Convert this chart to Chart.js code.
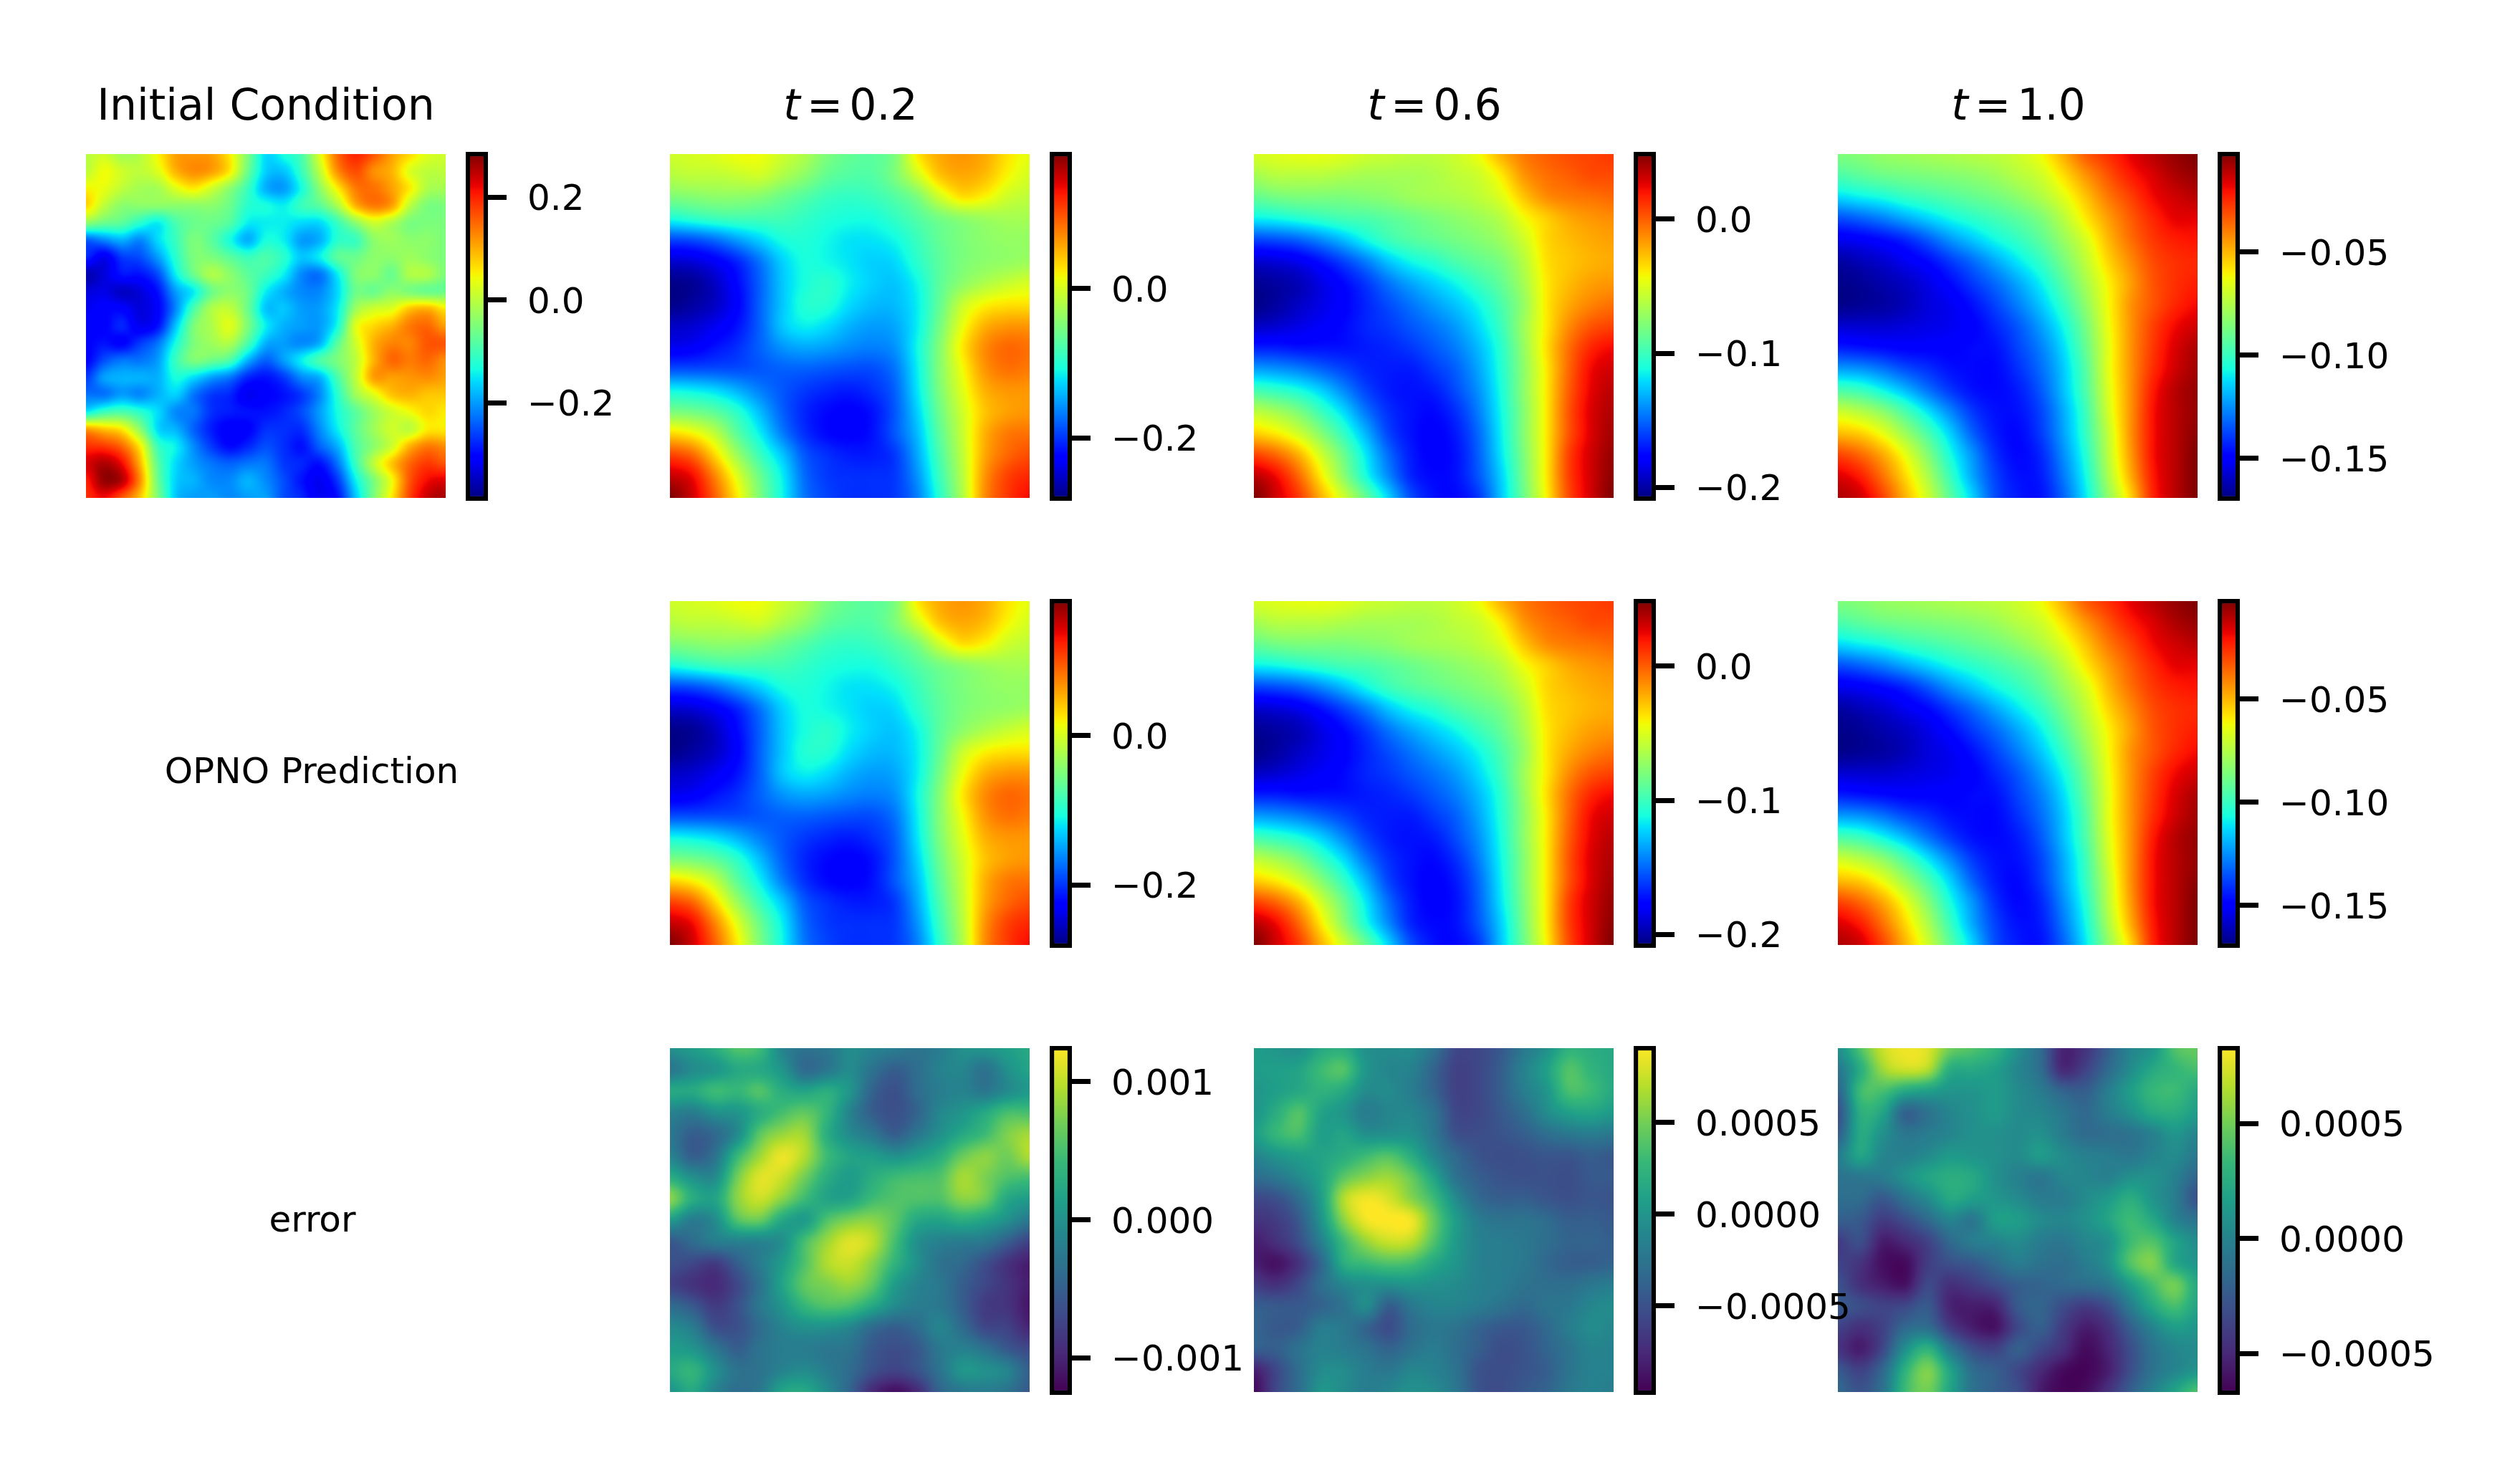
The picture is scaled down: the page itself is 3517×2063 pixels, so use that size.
<!DOCTYPE html>
<html>
<head>
<meta charset="utf-8">
<script src="https://cdn.jsdelivr.net/npm/chart.js@4"></script>
<style>
  html, body { margin: 0; background: #fff; }
  #page { position: relative; width: 3517px; height: 2063px; overflow: hidden; font-family: "DejaVu Sans"; color: #000; }
  canvas { position: absolute; }
  .label { position: absolute; transform: translateX(-50%); white-space: nowrap; line-height: 1; }
</style>
</head>
<body>
<div id="page"></div>
<script>
// colour levels (0-100 of each panel's colour range), row 0 = top
const initial = [
  [57,60,55,57,65,74,75,74,66,50,34,38,44,62,80,87,82,74,68,62,60],
  [58,64,60,58,62,72,76,74,66,48,33,32,42,58,76,83,76,72,62,58,58],
  [65,63,58,55,55,62,66,60,52,42,30,28,38,52,66,78,79,74,66,56,55],
  [68,58,52,52,52,52,52,52,48,40,38,36,42,46,56,72,78,74,58,50,50],
  [52,48,46,40,36,44,48,48,45,36,36,36,34,34,42,52,60,56,50,50,50],
  [22,26,30,26,34,42,50,46,38,30,38,36,28,30,40,42,52,54,52,52,50],
  [16,10,18,20,28,40,50,50,46,42,44,40,32,36,46,48,52,52,54,52,50],
  [4,8,14,14,20,36,48,56,52,46,42,36,26,24,36,50,52,48,56,56,50],
  [8,9,6,8,14,28,36,48,52,48,36,30,26,26,34,48,48,52,50,48,48],
  [10,12,12,8,12,26,44,56,58,48,32,32,28,28,36,54,60,62,70,72,66],
  [12,12,16,10,14,32,50,56,62,50,36,30,28,28,38,62,68,72,78,80,74],
  [12,14,12,18,24,38,50,54,56,44,30,28,26,30,46,60,72,77,77,82,82],
  [12,20,24,24,28,42,50,48,44,30,22,28,36,44,50,58,72,80,78,80,76],
  [18,28,30,30,30,38,34,28,24,16,14,18,26,30,44,58,74,74,75,76,74],
  [24,24,28,26,30,33,24,18,16,10,12,14,18,26,40,54,62,70,72,70,70],
  [36,42,44,40,34,26,24,17,15,14,14,16,20,28,38,46,54,60,64,68,66],
  [74,70,66,52,34,30,22,15,11,12,17,17,17,26,36,46,54,60,58,66,66],
  [86,85,80,66,42,36,26,18,13,16,20,17,14,22,30,44,52,60,72,78,76],
  [92,96,90,72,46,34,28,24,22,24,24,18,16,14,24,42,58,70,80,85,82],
  [88,98,95,76,48,33,30,26,26,30,26,20,14,10,18,36,50,64,82,90,92],
  [86,90,82,70,50,32,28,28,26,28,28,20,16,10,14,32,50,66,84,94,97]
];
const field02 = [
  [60,61,62,64,64,60,56,50,47,46,50,66,73,75,73,67,63],
  [57,58,58,59,60,56,52,47,45,45,50,60,70,73,71,65,61],
  [50,51,52,52,51,48,45,42,41,42,45,50,60,67,65,60,58],
  [38,40,42,43,43,43,41,39,38,38,41,45,49,52,54,55,55],
  [19,20,23,28,33,38,39,37,35,35,37,42,47,50,52,53,53],
  [7,8,11,16,24,33,38,37,35,33,34,40,46,50,52,53,54],
  [1,2,6,13,22,32,38,40,36,33,32,37,46,52,56,59,61],
  [1,3,6,12,22,32,39,39,34,31,31,36,47,59,65,67,67],
  [6,7,10,14,22,32,36,34,30,28,29,36,49,63,72,75,75],
  [10,11,14,17,22,27,29,28,26,25,27,37,51,66,76,80,79],
  [20,20,20,20,21,22,22,21,20,20,24,36,51,64,75,79,78],
  [37,36,34,30,25,21,18,16,15,17,22,35,50,62,72,75,75],
  [50,49,46,40,31,22,16,13,12,14,21,33,48,60,70,74,75],
  [68,65,58,46,36,25,17,13,12,14,21,31,46,59,72,78,79],
  [84,80,68,54,42,32,21,17,15,15,18,29,44,58,73,80,83],
  [94,90,77,62,48,36,23,18,17,17,18,27,42,57,75,84,87],
  [100,93,81,66,50,37,24,19,17,17,18,25,40,56,76,85,90]
];
const field06 = [
  [61,62,63,63,62,60,59,58,58,60,64,72,78,81,83,84,85],
  [55,57,57,57,56,55,55,55,56,58,60,66,75,79,81,83,83],
  [47,49,50,50,50,51,52,54,55,56,58,62,70,76,78,79,80],
  [36,37,39,41,43,44,46,48,50,52,54,57,64,69,73,75,76],
  [19,20,22,26,31,37,42,45,47,49,51,54,60,68,71,73,74],
  [7,8,10,14,19,25,32,37,40,44,47,50,57,67,70,72,73],
  [2,3,5,9,13,18,24,29,33,37,42,47,55,66,71,74,75],
  [1,3,6,9,12,16,20,24,28,32,37,44,53,66,73,77,79],
  [6,7,9,11,13,16,18,21,24,28,34,42,54,66,76,82,84],
  [15,15,14,14,14,15,16,18,21,25,31,40,53,67,79,87,90],
  [28,27,25,22,19,16,15,15,18,22,29,39,52,66,80,90,93],
  [43,41,38,33,26,19,15,14,15,20,27,38,52,66,81,91,95],
  [58,55,50,42,34,24,17,14,13,17,25,37,51,66,82,92,96],
  [69,66,60,51,41,30,19,14,12,15,23,36,51,66,82,92,97],
  [84,80,72,60,48,35,23,15,12,14,22,35,50,66,84,93,98],
  [95,90,80,66,52,38,26,16,13,14,21,33,49,66,84,93,99],
  [100,93,85,72,60,47,33,20,14,13,18,32,48,65,83,93,100]
];
const field10 = [
  [50,51,53,54,55,56,57,58,60,64,72,81,86,91,95,98,100],
  [44,46,48,49,50,51,52,54,57,60,67,75,82,88,92,96,98],
  [34,36,38,41,43,45,47,49,52,56,62,70,78,84,90,93,95],
  [20,22,25,29,33,37,40,43,46,50,57,66,74,81,87,91,91],
  [10,11,13,16,21,27,32,37,41,46,53,61,71,79,85,88,89],
  [3,5,7,10,13,18,23,29,35,41,49,58,68,76,83,86,87],
  [1,2,4,6,9,13,18,23,29,36,45,55,65,74,82,86,88],
  [1,2,3,5,8,10,14,19,25,32,41,52,64,75,82,87,90],
  [7,7,7,8,9,10,12,16,21,28,37,49,63,75,84,90,93],
  [15,14,13,12,12,12,13,14,19,25,34,47,62,75,85,92,96],
  [28,27,24,20,17,14,13,13,17,23,32,45,62,75,86,93,97],
  [44,42,37,31,24,18,14,13,15,21,31,44,61,75,88,95,98],
  [60,57,52,44,35,26,18,14,14,19,29,42,60,75,89,95,98],
  [71,69,63,54,44,33,22,15,13,18,28,41,58,75,89,95,99],
  [84,80,73,63,51,38,27,17,13,16,26,39,57,74,89,95,100],
  [92,88,79,68,56,42,29,19,14,15,24,37,55,72,88,95,100],
  [96,93,84,72,60,46,33,20,15,14,22,35,52,68,87,95,100]
];
const error02 = [
  [50,55,62,72,68,45,38,40,48,45,42,38,42,50,52,56,60],
  [40,48,52,60,60,52,35,40,48,38,30,36,44,46,38,50,58],
  [60,60,68,66,72,62,58,62,52,32,25,35,42,45,40,48,54],
  [45,42,50,52,62,70,75,65,45,30,25,32,46,52,60,70,70],
  [40,30,34,48,74,84,85,62,48,40,30,40,50,60,68,80,86],
  [45,30,38,66,85,97,88,68,58,55,50,55,62,76,82,78,88],
  [62,50,48,78,95,92,78,62,55,62,68,70,72,86,80,72,70],
  [82,62,58,82,92,82,68,58,58,68,72,72,72,82,78,60,55],
  [55,42,48,72,76,60,55,72,80,82,74,60,58,62,58,50,40],
  [28,35,42,44,45,50,70,85,95,90,70,50,44,42,40,30,20],
  [25,22,18,30,42,55,72,88,92,82,65,50,38,34,25,15,8],
  [20,15,12,22,38,58,75,80,84,75,55,45,40,30,22,15,8],
  [35,28,18,25,40,52,66,72,70,60,48,42,40,30,18,15,6],
  [48,42,25,25,35,45,50,50,46,35,30,35,45,35,22,20,10],
  [55,52,40,30,38,42,42,40,38,28,24,28,40,44,38,28,22],
  [60,65,50,38,38,45,48,42,35,25,20,26,38,52,50,45,30],
  [52,60,45,36,40,58,60,48,32,12,4,12,32,40,42,38,28]
];
const error06 = [
  [55,52,50,60,62,50,48,48,38,22,22,28,40,50,64,62,60],
  [55,56,58,68,72,52,46,44,32,20,22,30,44,56,72,65,60],
  [52,56,60,64,60,48,48,42,32,20,22,30,42,52,70,68,60],
  [52,62,72,58,52,42,46,46,38,22,22,28,36,48,56,58,54],
  [55,66,70,56,58,50,50,50,40,25,24,26,30,36,40,42,40],
  [45,52,56,58,62,68,72,62,46,34,26,24,25,27,27,30,28],
  [35,40,48,58,74,82,85,76,58,38,30,26,25,25,24,28,28],
  [22,25,36,56,88,98,94,82,68,48,34,30,30,27,25,27,26],
  [15,18,28,52,82,98,100,98,76,55,42,38,38,35,30,30,28],
  [8,14,24,44,68,84,92,90,72,54,44,42,40,36,32,32,30],
  [8,5,15,34,62,68,72,70,60,52,44,42,40,34,30,30,32],
  [18,14,22,36,46,50,50,52,50,48,44,42,38,36,36,40,42],
  [30,28,28,32,38,48,30,40,45,45,42,38,34,38,40,46,48],
  [32,28,30,42,40,32,24,35,40,38,32,28,28,34,42,48,46],
  [30,30,38,44,42,38,32,38,42,36,30,24,26,32,38,45,44],
  [8,22,36,48,48,42,40,46,44,38,26,24,26,30,38,44,44],
  [2,22,36,52,48,42,46,50,48,40,26,24,28,32,40,44,42]
];
const error10 = [
  [50,72,92,98,95,78,72,65,50,35,10,15,30,45,52,72,76],
  [40,62,85,92,88,62,60,56,46,36,12,20,34,48,60,66,70],
  [32,68,70,60,56,52,52,54,48,42,32,30,42,55,66,68,60],
  [25,62,58,32,38,46,50,54,48,46,40,34,42,50,60,62,55],
  [30,60,50,40,42,46,50,50,48,50,42,35,36,38,44,52,45],
  [42,58,46,44,48,54,52,50,48,54,48,44,42,40,45,48,40],
  [38,40,42,50,58,62,60,50,44,40,46,46,44,50,50,44,32],
  [36,35,28,38,48,60,56,52,48,42,42,48,54,62,52,42,25],
  [30,28,18,24,34,45,40,55,55,48,46,50,58,68,60,45,38],
  [18,24,8,12,20,34,42,45,48,42,40,46,50,68,72,58,48],
  [20,15,4,3,18,25,28,35,42,38,36,42,50,72,80,60,52],
  [25,14,8,5,22,14,18,24,30,32,34,36,40,55,70,78,60],
  [28,24,20,22,28,10,8,10,28,32,24,18,24,42,60,70,58],
  [20,14,20,34,36,18,8,5,22,30,18,8,14,30,45,55,52],
  [15,8,22,50,64,40,24,20,30,22,14,3,10,24,38,46,48],
  [28,20,34,64,80,58,36,30,22,12,3,1,8,24,38,46,52],
  [34,26,38,68,78,58,38,30,24,8,1,3,14,30,44,58,72]
];

// colourbar ranges and ticks
const initialRange = [-0.386, 0.283];
const range02 = [-0.281, 0.18];
const range06 = [-0.208, 0.0481];
const range10 = [-0.1693, -0.00274];
const errRange02 = [-0.00125, 0.00124];
const errRange06 = [-0.000972, 0.000904];
const errRange10 = [-0.000669, 0.000826];
const initialTicks = [0.2, 0, -0.2];
const initialTickLabels = ["0.2", "0.0", "\u22120.2"];
const ticks02 = [0, -0.2];
const tickLabels02 = ["0.0", "\u22120.2"];
const ticks06 = [0, -0.1, -0.2];
const tickLabels06 = ["0.0", "\u22120.1", "\u22120.2"];
const ticks10 = [-0.05, -0.1, -0.15];
const tickLabels10 = ["\u22120.05", "\u22120.10", "\u22120.15"];
const errTicks02 = [0.001, 0, -0.001];
const errTickLabels02 = ["0.001", "0.000", "\u22120.001"];
const errTicks05 = [0.0005, 0, -0.0005];
const errTickLabels05 = ["0.0005", "0.0000", "\u22120.0005"];

const colTitles = ["Initial Condition", "<i>t</i> = 0.2", "<i>t</i> = 0.6", "<i>t</i> = 1.0"];

const page = document.getElementById("page");
const PANEL_W = 502, PANEL_H = 480, BAR_W = 31, BAR_OFFSET = 530.4, LINE = 6.5;
const COL_X = [120, 935, 1750, 2565];
const ROW_Y = [215, 839, 1463];

// matplotlib jet, piecewise
function jet(t) {
  const ramp = (pts) => {
    for (let i = 1; i < pts.length; i++) {
      if (t <= pts[i][0]) {
        const [a, av] = pts[i - 1], [b, bv] = pts[i];
        return av + (bv - av) * (t - a) / (b - a);
      }
    }
    return pts[pts.length - 1][1];
  };
  return [
    255 * ramp([[0, 0], [0.35, 0], [0.66, 1], [0.89, 1], [1, 0.5]]),
    255 * ramp([[0, 0], [0.125, 0], [0.375, 1], [0.64, 1], [0.91, 0], [1, 0]]),
    255 * ramp([[0, 0.5], [0.11, 1], [0.34, 1], [0.65, 0], [1, 0]])
  ];
}
const viridisStops = [[68,1,84],[72,40,120],[62,73,137],[49,104,142],[38,130,142],[31,158,137],[53,183,121],[110,206,88],[181,222,43],[253,231,37]];
function viridis(t) {
  const f = Math.min(t, 0.9999) * (viridisStops.length - 1), i = Math.floor(f), k = f - i;
  return viridisStops[i].map((c, n) => c + (viridisStops[i + 1][n] - c) * k);
}

// Catmull-Rom read of the level grid between its nodes, like imshow's smoothing
function sample(grid, col, row) {
  const rows = grid.length, cols = grid[0].length;
  const cr = (a, b, c, d, k) => b + 0.5 * k * (c - a + k * (2 * a - 5 * b + 4 * c - d + k * (3 * (b - c) + d - a)));
  const c0 = Math.floor(col), r0 = Math.floor(row), kc = col - c0, kr = row - r0;
  const at = (r, c) => grid[Math.max(0, Math.min(rows - 1, r))][Math.max(0, Math.min(cols - 1, c))];
  const line = (r) => cr(at(r, c0 - 1), at(r, c0), at(r, c0 + 1), at(r, c0 + 2), kc);
  return cr(line(r0 - 1), line(r0), line(r0 + 1), line(r0 + 2), kr);
}

// one cell of the heatmap as a point image centred on its grid node
function cellImage(grid, cmap, col, row, stepX, stepY) {
  const w = Math.ceil(stepX) + 3, h = Math.ceil(stepY) + 3;
  const cv = document.createElement("canvas");
  cv.width = w; cv.height = h;
  const g = cv.getContext("2d"), img = g.createImageData(w, h);
  for (let py = 0; py < h; py++) {
    for (let px = 0; px < w; px++) {
      const c = Math.max(0, Math.min(grid[0].length - 1, col + (px + 0.5 - w / 2) / stepX));
      const r = Math.max(0, Math.min(grid.length - 1, row + (py + 0.5 - h / 2) / stepY));
      const lv = Math.max(0, Math.min(100, sample(grid, c, r)));
      const rgb = cmap(lv / 100), o = (py * w + px) * 4;
      img.data[o] = rgb[0]; img.data[o + 1] = rgb[1]; img.data[o + 2] = rgb[2]; img.data[o + 3] = 255;
    }
  }
  g.putImageData(img, 0, 0);
  return cv;
}

function addCanvas(x, y, w, h) {
  const cv = document.createElement("canvas");
  cv.width = w; cv.height = h;
  cv.style.left = x + "px"; cv.style.top = y + "px";
  page.appendChild(cv);
  return cv;
}

function heatmap(grid, cmap, x, y) {
  const cv = addCanvas(x, y, PANEL_W, PANEL_H);
  const cols = grid[0].length, rows = grid.length;
  const stepX = PANEL_W / (cols - 1), stepY = PANEL_H / (rows - 1);
  const points = [];
  grid.forEach((line, r) => line.forEach((v, c) => points.push({ x: c, y: r, v: v })));
  new Chart(cv, {
    type: "scatter",
    data: { datasets: [{
      data: points,
      pointRadius: stepX / 2,
      pointBorderWidth: 0,
      pointStyle: (ctx) => {
        const p = points[ctx.dataIndex];
        return p ? cellImage(grid, cmap, p.x, p.y, stepX, stepY) : "rect";
      }
    }] },
    options: {
      responsive: false, animation: false, devicePixelRatio: 1,
      layout: { padding: 0, autoPadding: false },
      plugins: { legend: { display: false }, tooltip: { enabled: false } },
      scales: {
        x: { type: "linear", display: false, min: 0, max: cols - 1 },
        y: { type: "linear", display: false, min: 0, max: rows - 1, reverse: true }
      }
    }
  });
}

function colorbar(range, tickValues, tickLabels, cmap, x, y) {
  // padding has to stay above the half label height the y axis asks for
  const pad = 70, axisW = 330;
  const barH = PANEL_H + LINE;
  const ext = (range[1] - range[0]) * (Math.ceil(barH) - PANEL_H) / 2 / PANEL_H;
  const lo = range[0] - ext, hi = range[1] + ext;
  const cv = addCanvas(x, y - (Math.ceil(barH) - PANEL_H) / 2 - pad, BAR_W + axisW, Math.ceil(barH) + pad * 2);
  cv.style.zIndex = 2;
  new Chart(cv, {
    type: "bar",
    data: { labels: ["range"], datasets: [{
      data: [[lo, hi]],
      barPercentage: 1, categoryPercentage: 1,
      borderWidth: LINE, borderColor: "#000", borderSkipped: false,
      backgroundColor: (ctx) => {
        const sc = ctx.chart.scales.y;
        const y0 = sc ? sc.getPixelForValue(range[0]) : NaN, y1 = sc ? sc.getPixelForValue(range[1]) : NaN;
        if (!Number.isFinite(y0) || !Number.isFinite(y1)) return "#000";
        const grad = ctx.chart.ctx.createLinearGradient(0, y0, 0, y1);
        for (let i = 0; i <= 64; i++) {
          const c = cmap(i / 64);
          grad.addColorStop(i / 64, `rgb(${c[0]},${c[1]},${c[2]})`);
        }
        return grad;
      }
    }] },
    options: {
      responsive: false, animation: false, devicePixelRatio: 1,
      layout: { padding: { top: pad, bottom: pad, left: 0, right: 0 }, autoPadding: false },
      plugins: { legend: { display: false }, tooltip: { enabled: false } },
      scales: {
        x: { display: false },
        y: {
          position: "right", min: lo, max: hi,
          afterFit: (s) => { s.width = axisW; },
          afterBuildTicks: (s) => { s.ticks = tickValues.map((v) => ({ value: v })); },
          border: { display: false },
          grid: { drawOnChartArea: false, drawTicks: true, tickLength: 26, tickWidth: 7, tickColor: "#000" },
          ticks: {
            autoSkip: false, padding: 29, labelOffset: 5, color: "#000",
            font: { family: "DejaVu Sans", size: 50 },
            callback: (v, i) => tickLabels[i]
          }
        }
      }
    }
  });
}

function addLabel(html, cx, y, size, spacing) {
  const d = document.createElement("div");
  d.className = "label";
  d.innerHTML = html;
  d.style.left = cx + "px"; d.style.top = y + "px"; d.style.fontSize = size + "px";
  if (spacing) d.style.wordSpacing = spacing + "px";
  page.appendChild(d);
}

// first row
heatmap(initial, jet, COL_X[0], ROW_Y[0]);
colorbar(initialRange, initialTicks, initialTickLabels, jet, COL_X[0] + BAR_OFFSET, ROW_Y[0]);
const fields = [field02, field06, field10];
const ranges = [range02, range06, range10];
const fieldTicks = [[ticks02, tickLabels02], [ticks06, tickLabels06], [ticks10, tickLabels10]];
// second row: the prediction is indistinguishable at this reading precision
[0, 1].forEach((row) => {
  fields.forEach((grid, i) => {
    heatmap(grid, jet, COL_X[i + 1], ROW_Y[row]);
    colorbar(ranges[i], fieldTicks[i][0], fieldTicks[i][1], jet, COL_X[i + 1] + BAR_OFFSET, ROW_Y[row]);
  });
});
// third row
heatmap(error02, viridis, COL_X[1], ROW_Y[2]);
colorbar(errRange02, errTicks02, errTickLabels02, viridis, COL_X[1] + BAR_OFFSET, ROW_Y[2]);
heatmap(error06, viridis, COL_X[2], ROW_Y[2]);
colorbar(errRange06, errTicks05, errTickLabels05, viridis, COL_X[2] + BAR_OFFSET, ROW_Y[2]);
heatmap(error10, viridis, COL_X[3], ROW_Y[2]);
colorbar(errRange10, errTicks05, errTickLabels05, viridis, COL_X[3] + BAR_OFFSET, ROW_Y[2]);

colTitles.forEach((t, i) => addLabel(t, COL_X[i] + PANEL_W / 2 + (i ? 1 : 0), 116, 60, i === 0 ? 0 : -10));
addLabel("OPNO Prediction", 435, 1051, 50);
addLabel("error", 436, 1677, 50);
</script>
</body>
</html>
